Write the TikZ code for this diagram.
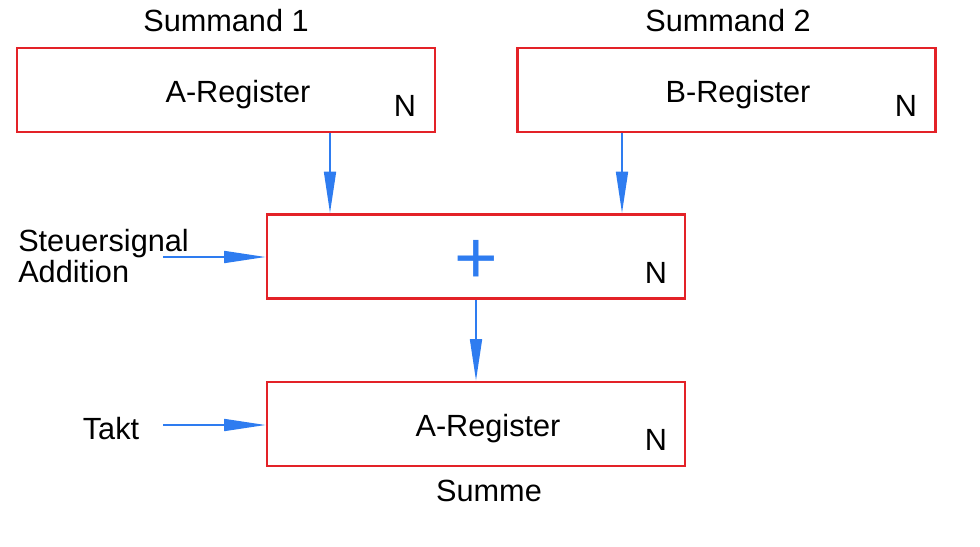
\documentclass[tikz,border=0pt]{standalone}
\usepackage{fontspec}
\setmainfont{Liberation Sans}
\usetikzlibrary{arrows.meta}
\definecolor{boxred}{HTML}{E32228}
\definecolor{arrblue}{HTML}{2E7CF0}
\begin{document}
\begin{tikzpicture}[x=0.75pt,y=-0.75pt,
  font=\fontsize{23}{23}\selectfont,
  reg/.style={draw=boxred,line width=2.2pt,minimum width=418*0.75pt,minimum height=84*0.75pt,inner sep=0pt},
  conn/.style={draw=arrblue,line width=1.2pt,-{Triangle[length=31pt,width=9pt]}},
  lbl/.style={inner sep=0pt}]
\useasboundingbox (0,0) rectangle (980,546);
\node[reg] (ra) at (226,90) {};
\node[reg] (rb) at (726.5,90) {};
\node[reg] (add) at (476,256.5) {};
\node[reg] (rs) at (476,424) {};
\node[lbl] (s1) at (226,21) {Summand 1};
\node[lbl] (s2) at (728,21) {Summand 2};
\node[lbl] (ta) at (238,95) {A-Register};
\node[lbl] (na) at (405,106) {N};
\node[lbl] (tb) at (738,95) {B-Register};
\node[lbl] (nb) at (906,106) {N};
\node[lbl,text=arrblue,font=\fontsize{56}{56}\selectfont] (plus) at (476,262) {+};
\node[lbl] (nadd) at (656,273) {N};
\node[lbl] (ts) at (488,429) {A-Register};
\node[lbl] (ns) at (656,440) {N};
\node[lbl] (summe) at (489,491) {Summe};
\node[lbl,align=left,anchor=west,font=\fontsize{23}{23}\selectfont] (st) at (18,256) {Steuersignal\\Addition};
\node[lbl] (takt) at (111,429) {Takt};
\coordinate (c1) at (163,257);
\coordinate (c2) at (163,425);
\draw[conn] (ra.south -| 330,0) -- (add.north -| 330,0);
\draw[conn] (rb.south -| 622,0) -- (add.north -| 622,0);
\draw[conn] (add.south) -- (rs.north);
\draw[conn] (c1) -- (add.west |- c1);
\draw[conn] (c2) -- (rs.west |- c2);
\end{tikzpicture}
\end{document}
